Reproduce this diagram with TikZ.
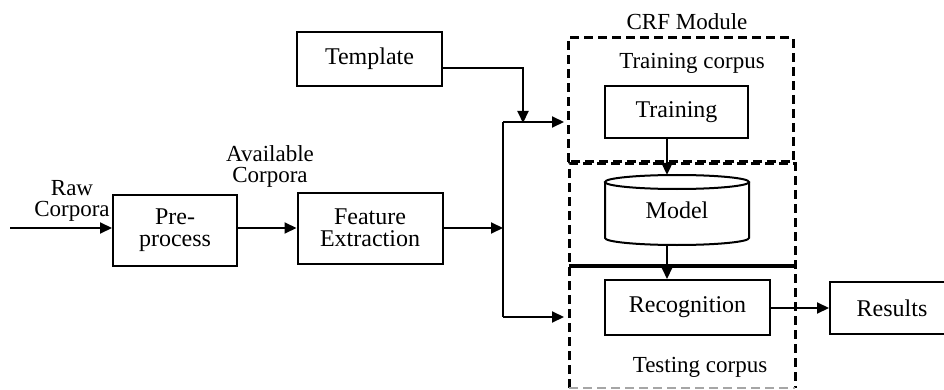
\documentclass[tikz,border=0pt]{standalone}
\usepackage{fontspec}
\setmainfont{Liberation Serif}
\usetikzlibrary{arrows.meta,calc}
\begin{document}
\begin{tikzpicture}[x=1pt,y=-1pt,
  box/.style={draw,line width=2pt,inner sep=0pt,align=center,font=\fontsize{24}{22}\selectfont},
  conn/.style={line width=2pt,-{Triangle[length=12pt,width=11pt]}},
  plainline/.style={line width=2pt},
  dbox/.style={line width=3pt,dash pattern=on 9pt off 5pt},
  lbl/.style={align=center,inner sep=0pt,font=\fontsize{23}{21}\selectfont}]
\useasboundingbox (0,0) rectangle (944,390);

% dashed module boxes
\draw[dbox] (568,162) -- (568,38) -- (793,38) -- (793,162) -- cycle;
\draw[dbox] (569,388) -- (569,164) -- (795,164) -- (795,388);
\draw[line width=1.5pt,gray!70,dash pattern=on 9pt off 5pt] (569,388) -- (795,388);
\coordinate (sepl) at (569,266);
\coordinate (sepr) at (795,266);
\draw[line width=3.5pt] (sepl) -- (sepr);

% labels
\node[lbl] (crf) at (687,22) {CRF Module};
\node[lbl] (trc) at (692,63) {Training corpus};
\node[lbl] (tsc) at (700,367) {Testing corpus};
\node[lbl] (raw) at (72,201) {Raw\\Corpora};
\node[lbl] (avail) at (270,166) {Available\\Corpora};

% boxes
\node[box,minimum width=124pt,minimum height=71pt] (pre) at (175,230) {Pre-\\process};
\node[box,minimum width=145pt,minimum height=71pt] (feat) at (370,228) {Feature\\Extraction};
\node[box,minimum width=145pt,minimum height=54pt] (tmpl) at (369.5,59) {Template};
\node[box,minimum width=143pt,minimum height=52pt] (train) at (676.5,112) {Training};
\node[box,minimum width=165pt,minimum height=55pt] (recog) at (687.5,307.5) {Recognition};
\node[box,minimum width=124pt,minimum height=52pt] (results) at (892,308) {Results};

% model cylinder
\node[inner sep=0pt,minimum width=144pt,minimum height=70pt,font=\fontsize{24}{22}\selectfont] (model) at (677,210) {Model};
\draw[line width=2pt] (605,182) -- (605,238) arc[start angle=180,end angle=360,x radius=72pt,y radius=7pt] -- (749,182);
\draw[line width=2pt] (677,182) ellipse[x radius=72pt,y radius=7pt];

% coordinates
\coordinate (src) at (10,228);
\coordinate (split) at (503,228);
\coordinate (top) at (503,122);
\coordinate (bot) at (503,317);
\coordinate (crfin) at (564,122);
\coordinate (testin) at (564,317);
\coordinate (join) at (523,122);
\coordinate (ax) at (667,0);

% connectors
\draw[conn] (src) -- (src -| pre.west);
\draw[conn] (pre.east |- feat.center) -- (feat.west);
\draw[conn] (feat.east) -- (split);
\draw[plainline] (top) -- (bot);
\draw[conn] (top) -- (crfin);
\draw[conn] (bot) -- (testin);
\draw[conn] ([yshift=-9pt]tmpl.east) -| ([yshift=-1pt]join);
\draw[conn] (train.south -| ax) -- (model.north -| ax);
\draw[conn] (model.south -| ax) -- (recog.north -| ax);
\draw[conn] (recog.east |- results.west) -- (results.west);
\end{tikzpicture}
\end{document}
